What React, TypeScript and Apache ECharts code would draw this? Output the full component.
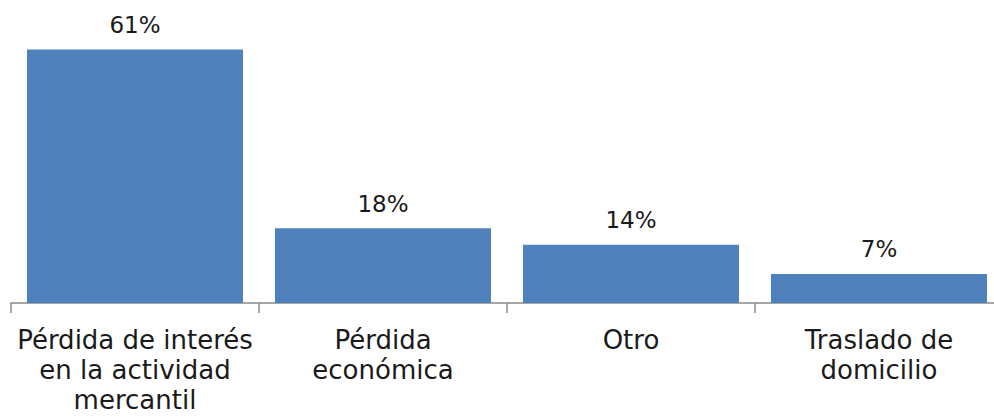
import React, { useEffect, useRef } from "react";
import * as echarts from "echarts";

const categories = [
  "Pérdida de interés\nen la actividad\nmercantil",
  "Pérdida\neconómica",
  "Otro",
  "Traslado de\ndomicilio",
];
const values = [61, 18, 14, 7];

export default function App() {
  const ref = useRef<HTMLDivElement>(null);
  useEffect(() => {
    if (!ref.current) return;
    const chart = echarts.init(ref.current, null, { renderer: "svg" });
    chart.setOption({
      animation: false,
      grid: { left: 11, right: 0, top: 12, bottom: 116 },
      xAxis: {
        type: "category",
        data: categories,
        axisLine: { show: true, lineStyle: { color: "#888888", width: 1.5 } },
        axisTick: { show: true, length: 10, lineStyle: { color: "#888888", width: 1.5 } },
        axisLabel: {
          color: "#1a1a1a",
          fontFamily: "DejaVu Sans",
          fontSize: 26,
          lineHeight: 30,
          margin: 22,
          interval: 0,
        },
      },
      yAxis: {
        type: "value",
        min: 0,
        max: 70,
        show: false,
        splitLine: { show: false },
      },
      series: [
        {
          type: "bar",
          data: values,
          barWidth: 216,
          itemStyle: { color: "#4F81BD" },
          label: {
            show: true,
            position: "top",
            distance: 13,
            color: "#1a1a1a",
            fontFamily: "DejaVu Sans",
            fontSize: 23,
            formatter: (p: any) => p.value + "%",
          },
        },
      ],
    });
    return () => chart.dispose();
  }, []);
  return (
    <div style={{ position: "fixed", left: 0, top: 0, width: 994, height: 419, overflow: "hidden", background: "#fff" }}>
      <div ref={ref} style={{ width: 1003, height: 419 }} />
    </div>
  );
}
